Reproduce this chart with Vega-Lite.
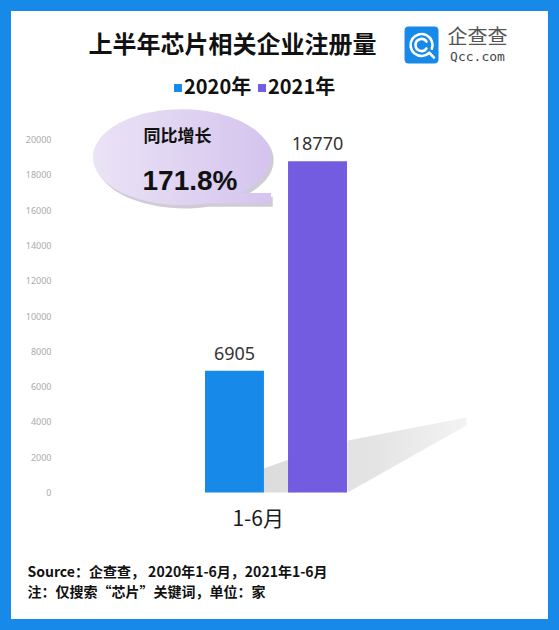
{
  "$schema": "https://vega.github.io/schema/vega-lite/v6.json",
  "width": 559,
  "height": 630,
  "autosize": {"type": "none"},
  "padding": 0,
  "background": "#ffffff",
  "config": {
    "view": {"fill": "#ffffff", "stroke": "#1789e8", "strokeWidth": 22},
    "font": "Noto Sans CJK SC"
  },
  "title": {
    "text": "上半年芯片相关企业注册量",
    "anchor": "middle",
    "frame": "group",
    "dx": -47,
    "offset": -58,
    "font": "Noto Sans CJK SC",
    "fontSize": 24,
    "fontWeight": "bold",
    "color": "#111111"
  },
  "datasets": {
    "bars": [
      {"period": "1-6月", "year": "2020年", "count": 6905},
      {"period": "1-6月", "year": "2021年", "count": 18770}
    ],
    "callout": [{"label": "同比增长", "growth": "171.8%"}],
    "brand": [{"name": "企查查", "site": "Qcc.com"}]
  },
  "layer": [
    {
      "data": {"name": "callout"},
      "mark": {
        "type": "point", "filled": true, "opacity": 1, "size": 4, "strokeWidth": 0,
        "shape": "M30,0 L30,-52 L149,-75 L149,-67 Z M-54,0 L-54,-24 L-20,-36 L-20,0 Z",
        "fill": {
          "gradient": "linear", "x1": 0, "y1": 0, "x2": 1, "y2": 0,
          "stops": [{"offset": 0, "color": "#dcdcdc"}, {"offset": 0.55, "color": "#e4e4e4"}, {"offset": 1, "color": "#f3f3f3"}]
        }
      },
      "encoding": {
        "x": {"datum": "1-6月"},
        "xOffset": {"datum": "2021年"},
        "y": {"datum": 0, "type": "quantitative"}
      }
    },
    {
      "data": {"name": "bars"},
      "mark": {"type": "bar"},
      "encoding": {
        "x": {
          "field": "period", "type": "nominal",
          "scale": {"paddingInner": 0.319, "paddingOuter": 1, "align": 0.4916},
          "axis": {
            "orient": "bottom", "offset": -137.5, "domain": false, "ticks": false, "tickSize": 0,
            "labelPadding": 27, "labelFontSize": 21, "labelFont": "Noto Sans CJK SC",
            "labelColor": "#1a1a1a", "labelOffset": 8, "labelAngle": 0,
            "title": ["Source：企查查， 2020年1-6月，2021年1-6月", "注：仅搜索“芯片”关键词，单位：家"],
            "titleFont": "Noto Sans CJK SC", "titleFontSize": 14, "titleFontWeight": "bold",
            "titleColor": "#111111", "titleAlign": "left", "titleAnchor": "start",
            "titleBaseline": "alphabetic", "titleX": 27, "titleY": 83.5, "titleLineHeight": 20
          }
        },
        "xOffset": {
          "field": "year", "type": "nominal",
          "scale": {"paddingInner": 0.29, "paddingOuter": 0}
        },
        "y": {
          "field": "count", "type": "quantitative",
          "scale": {"domain": [-7790, 27904], "nice": false, "zero": false},
          "axis": {
            "orient": "left", "offset": -55, "domain": false, "ticks": false, "tickSize": 0, "grid": false,
            "labelPadding": 4, "labelFontSize": 9, "labelFont": "Noto Sans", "labelColor": "#aaaaaa",
            "format": "d",
            "values": [0, 2000, 4000, 6000, 8000, 10000, 12000, 14000, 16000, 18000, 20000],
            "title": null
          }
        },
        "color": {
          "field": "year", "type": "nominal",
          "scale": {"domain": ["2020年", "2021年"], "range": ["#1789e8", "#735ce0"]},
          "legend": {
            "orient": "none", "legendX": 168, "legendY": 78, "direction": "horizontal",
            "title": null, "symbolType": "square", "symbolSize": 64, "symbolStrokeWidth": 0,
            "symbolOpacity": 1, "labelFontSize": 20, "labelFontWeight": "bold",
            "labelFont": "Noto Sans CJK SC", "labelColor": "#111111", "labelOffset": -4,
            "columnPadding": -4, "padding": 0
          }
        }
      }
    },
    {
      "data": {"name": "bars"},
      "mark": {"type": "text", "baseline": "alphabetic", "dy": -11, "fontSize": 18, "font": "Noto Sans", "color": "#333333"},
      "encoding": {
        "x": {"field": "period", "type": "nominal"},
        "xOffset": {"field": "year", "type": "nominal"},
        "y": {"field": "count", "type": "quantitative"},
        "text": {"field": "count", "type": "quantitative", "format": "d"}
      }
    },
    {
      "data": {"name": "callout"},
      "mark": {
        "type": "point", "filled": true, "opacity": 1, "size": 31684,
        "shape": "M-1.56,0.04 A1,0.539 0 1,1 0.093,0.444 L0.43,0.444 L0.43,0.557 L-0.289,0.557 A1,0.539 0 0,1 -1.56,0.04 Z",
        "fill": "#a9a2b4", "fillOpacity": 0.55, "strokeWidth": 0
      },
      "encoding": {
        "x": {"datum": "1-6月"},
        "xOffset": {"datum": "2020年"},
        "y": {"datum": 19000, "type": "quantitative"}
      }
    },
    {
      "data": {"name": "callout"},
      "mark": {
        "type": "point", "filled": true, "opacity": 1, "size": 31684,
        "shape": "M-1.59,0 A1,0.539 0 1,1 0.073,0.404 L0.41,0.404 L0.41,0.517 L-0.309,0.517 A1,0.539 0 0,1 -1.59,0 Z",
        "fill": {
          "gradient": "linear", "x1": 0, "y1": 0, "x2": 1, "y2": 0,
          "stops": [{"offset": 0, "color": "#ebe3f6"}, {"offset": 1, "color": "#d4c4ee"}]
        },
        "strokeWidth": 0
      },
      "encoding": {
        "x": {"datum": "1-6月"},
        "xOffset": {"datum": "2020年"},
        "y": {"datum": 19000, "type": "quantitative"}
      }
    },
    {
      "data": {"name": "callout"},
      "mark": {"type": "text", "baseline": "middle", "align": "center", "dx": -57, "dy": -20, "fontSize": 17, "fontWeight": "bold", "font": "Noto Sans CJK SC", "color": "#111111"},
      "encoding": {
        "x": {"datum": "1-6月"},
        "xOffset": {"datum": "2020年"},
        "y": {"datum": 19000, "type": "quantitative"},
        "text": {"field": "label"}
      }
    },
    {
      "data": {"name": "callout"},
      "mark": {"type": "text", "baseline": "middle", "align": "center", "dx": -44.5, "dy": 25, "fontSize": 28, "fontWeight": "bold", "font": "Liberation Sans", "color": "#111111"},
      "encoding": {
        "x": {"datum": "1-6月"},
        "xOffset": {"datum": "2020年"},
        "y": {"datum": 19000, "type": "quantitative"},
        "text": {"field": "growth"}
      }
    },
    {
      "data": {"name": "brand"},
      "mark": {
        "type": "point", "filled": true, "opacity": 1, "size": 1156, "fill": "#1789e8", "strokeWidth": 0,
        "shape": "M5.368,-1.09 L6.868,-1.09 Q7.118,-1.09 7.118,-0.84 L7.118,0.84 Q7.118,1.09 6.868,1.09 L5.368,1.09 Q5.118,1.09 5.118,0.84 L5.118,-0.84 Q5.118,-1.09 5.368,-1.09 Z"
      },
      "encoding": {
        "x": {"datum": "1-6月"},
        "xOffset": {"datum": "2021年"},
        "y": {"datum": 25354, "type": "quantitative"}
      }
    },
    {
      "data": {"name": "brand"},
      "mark": {
        "type": "point", "filled": false, "opacity": 1, "size": 1156, "stroke": "#ffffff", "strokeWidth": 2.6, "strokeCap": "round",
        "shape": "M6.575,0.457 A0.647,0.647 0 1,1 6.726,0.221 M6.575,0.457 L6.85,0.74 M6.407,-0.202 A0.353,0.353 0 1,0 6.407,0.202"
      },
      "encoding": {
        "x": {"datum": "1-6月"},
        "xOffset": {"datum": "2021年"},
        "y": {"datum": 25354, "type": "quantitative"}
      }
    },
    {
      "data": {"name": "brand"},
      "mark": {"type": "text", "baseline": "middle", "align": "center", "dx": 160, "dy": -7.5, "fontSize": 20, "font": "Noto Sans CJK SC", "color": "#555555"},
      "encoding": {
        "x": {"datum": "1-6月"},
        "xOffset": {"datum": "2021年"},
        "y": {"datum": 25354, "type": "quantitative"},
        "text": {"field": "name"}
      }
    },
    {
      "data": {"name": "brand"},
      "mark": {"type": "text", "baseline": "middle", "align": "center", "dx": 160, "dy": 12, "fontSize": 13, "font": "DejaVu Sans Mono", "color": "#444444"},
      "encoding": {
        "x": {"datum": "1-6月"},
        "xOffset": {"datum": "2021年"},
        "y": {"datum": 25354, "type": "quantitative"},
        "text": {"field": "site"}
      }
    }
  ]
}
